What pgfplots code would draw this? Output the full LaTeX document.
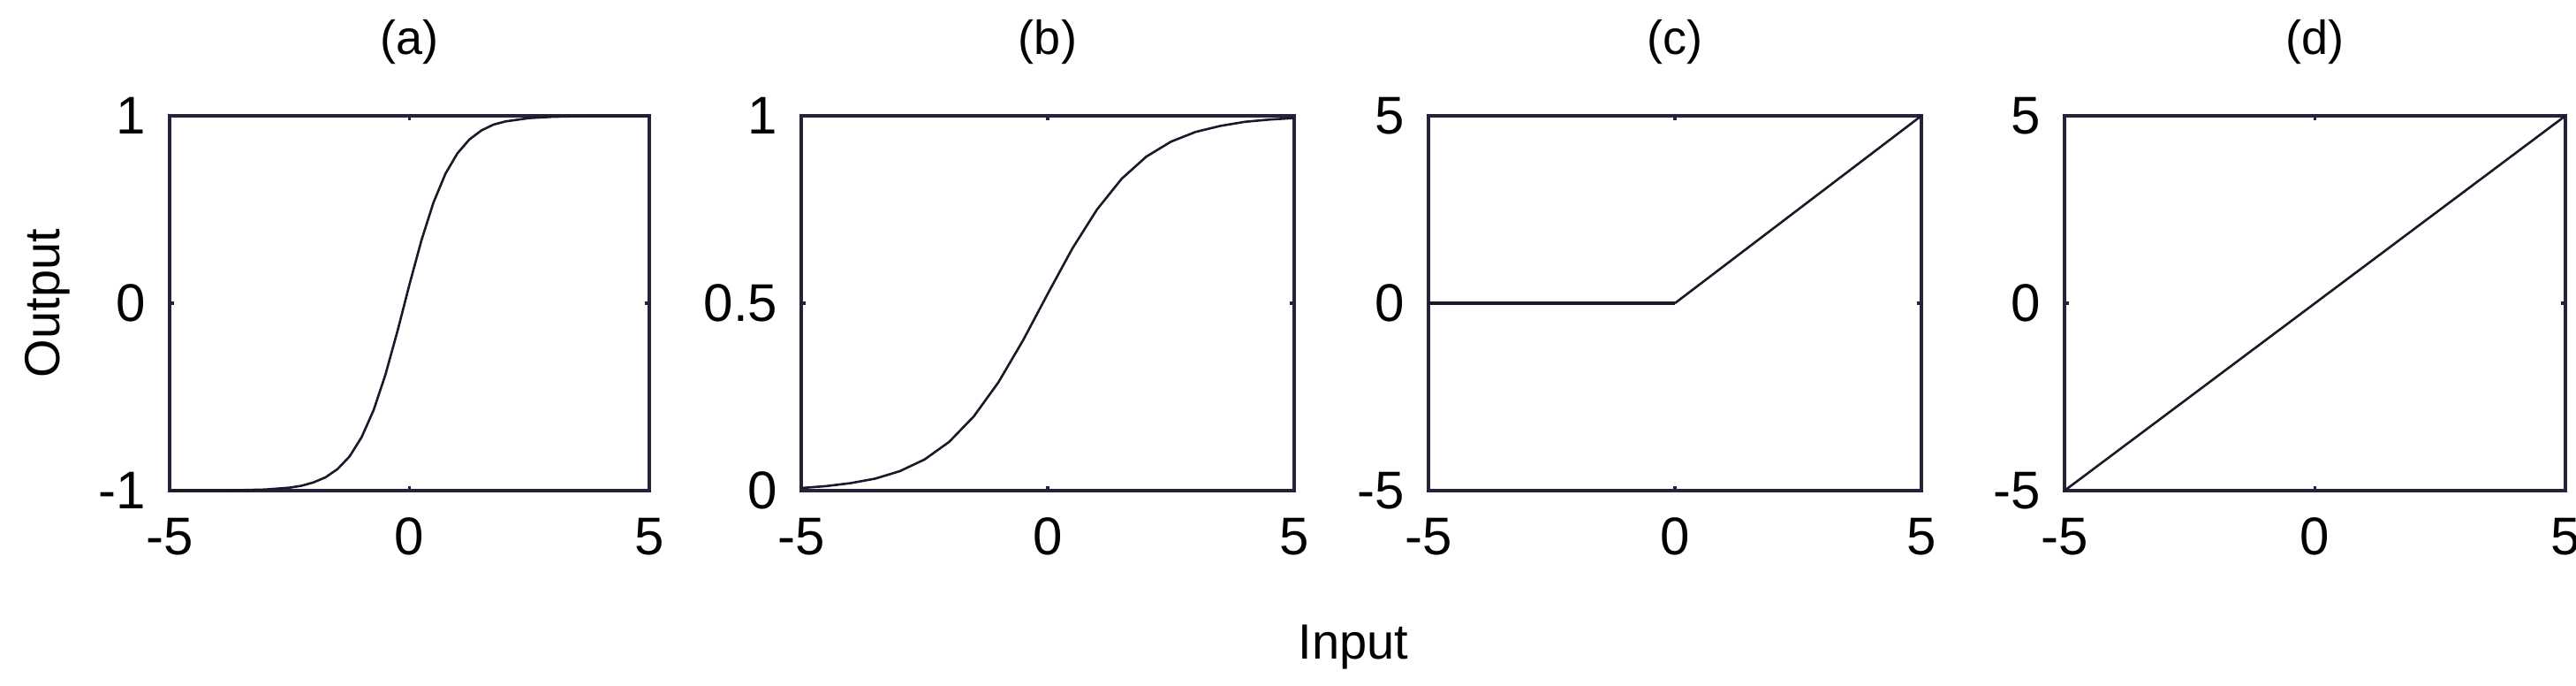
\documentclass[border=0pt]{standalone}
\usepackage{pgfplots}
\pgfplotsset{compat=1.18}
\usepackage{fontspec}
\setmainfont{Liberation Sans}
\definecolor{boxcol}{RGB}{35,35,60}
\definecolor{curvecol}{RGB}{25,25,40}

\pgfplotsset{
  panel/.style={
    scale only axis,
    height=106pt,
    xmin=-5, xmax=5,
    xtick={-5,0,5},
    tick align=inside,
    major tick length=1.3pt,
    axis line style={boxcol, line width=0.9pt},
    every tick/.style={boxcol, line width=0.9pt},
    /pgf/number format/assume math mode=true,
    tick label style={font=\fontsize{15}{18}\selectfont},
    xticklabel style={anchor=center, yshift=-13pt},
    yticklabel style={anchor=east, inner sep=0pt, xshift=-6.5pt},
    title style={at={(0.5,1)}, anchor=center, yshift=14.75pt,
                 font=\fontsize{13.5}{16}\selectfont},
    anchor=south west,
  },
  curve/.style={curvecol, line width=0.65pt, mark=none},
}

\begin{document}
\begin{tikzpicture}
\path[use as bounding box] (0,0) rectangle (729pt,193.75pt);

% (a)
\begin{axis}[panel, at={(48pt,55pt)}, width=135.75pt,
  ymin=-1, ymax=1, ytick={-1,0,1}, title={(a)}]
\addplot[curve] coordinates {
  (-5,-1) (-4,-1) (-3,-0.994) (-2.5,-0.984) (-2.25,-0.974) (-2,-0.956)
  (-1.75,-0.929) (-1.5,-0.885) (-1.25,-0.818) (-1,-0.716) (-0.75,-0.572)
  (-0.5,-0.380) (-0.25,-0.149) (0,0.100) (0.25,0.336) (0.5,0.537)
  (0.75,0.691) (1,0.800) (1.25,0.874) (1.5,0.922) (1.75,0.953)
  (2,0.970) (2.5,0.988) (3,0.995) (4,1) (5,1)
};
\end{axis}

% (b)
\begin{axis}[panel, at={(226.75pt,55pt)}, width=139.5pt,
  ymin=0, ymax=1, ytick={0,0.5,1}, title={(b)}]
\addplot[curve] coordinates {
  (-5,0.007) (-4.5,0.012) (-4,0.020) (-3.5,0.032) (-3,0.052) (-2.5,0.083)
  (-2,0.130) (-1.5,0.198) (-1,0.289) (-0.5,0.401) (0,0.525) (0.5,0.646)
  (1,0.750) (1.5,0.832) (2,0.891) (2.5,0.931) (3,0.957) (3.5,0.973)
  (4,0.984) (4.5,0.990) (5,0.994)
};
\end{axis}

% (c)
\begin{axis}[panel, at={(404.25pt,55pt)}, width=139.5pt,
  ymin=-5, ymax=5, ytick={-5,0,5}, title={(c)}]
\addplot[curvecol, line width=1.2pt, mark=none] coordinates {(-5,0) (0,0)};
\addplot[curve] coordinates {(0,0) (5,5)};
\end{axis}

% (d)
\begin{axis}[panel, at={(584.25pt,55pt)}, width=141.75pt,
  ymin=-5, ymax=5, ytick={-5,0,5}, title={(d)}]
\addplot[curve] coordinates {(-5,-5) (5,5)};
\end{axis}

\node[font=\fontsize{14}{17}\selectfont] at (383pt,10.75pt) {Input};
\node[font=\fontsize{14}{17}\selectfont, rotate=90] at (13.5pt,108pt) {Output};
\end{tikzpicture}
\end{document}
